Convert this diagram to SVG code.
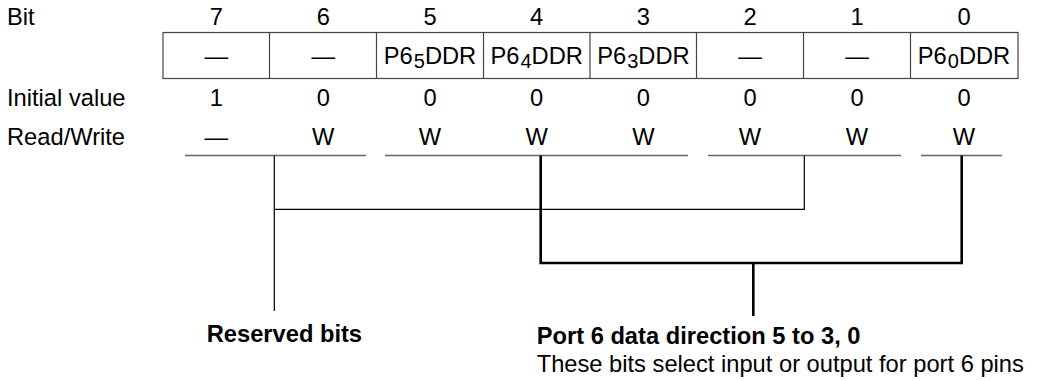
<svg xmlns="http://www.w3.org/2000/svg" width="1040" height="381" viewBox="0 0 1040 381">
<style>
text{font-family:"Liberation Sans",Arial,sans-serif;font-size:23.7px;fill:#000}
.c{text-anchor:middle}
.b{font-weight:bold}
.s{font-size:20px}
.ul{stroke:#666;stroke-width:1.5;fill:none}
.thin{stroke:#000;stroke-width:1.2;fill:none}
.thick{stroke:#000;stroke-width:2.6;fill:none}
.cell{stroke:#444;stroke-width:1.2;fill:none}
</style>
<rect width="1040" height="381" fill="#fff"/>
<g id="labels">
<text x="7" y="25">Bit</text>
<text x="7" y="105.5">Initial value</text>
<text x="7" y="144.5">Read/Write</text>
</g>
<g id="bits">
<text class="c" x="216.4" y="25">7</text>
<text class="c" x="323.3" y="25">6</text>
<text class="c" x="430" y="25">5</text>
<text class="c" x="536.7" y="25">4</text>
<text class="c" x="643.4" y="25">3</text>
<text class="c" x="750" y="25">2</text>
<text class="c" x="857" y="25">1</text>
<text class="c" x="964" y="25">0</text>
</g>
<g id="register">
<rect class="cell" x="163" y="32.5" width="855" height="46"/>
<path class="cell" d="M269.5 32.5V78.5M376.5 32.5V78.5M483.5 32.5V78.5M590 32.5V78.5M696.5 32.5V78.5M803.5 32.5V78.5M910.5 32.5V78.5"/>
<text class="c" x="216.4" y="63.5">—</text>
<text class="c" x="323.3" y="63.5">—</text>
<text class="c" x="430" y="64">P6<tspan class="s" dx="1" dy="4">5</tspan><tspan dy="-4">DDR</tspan></text>
<text class="c" x="536.7" y="64">P6<tspan class="s" dx="1" dy="4">4</tspan><tspan dy="-4">DDR</tspan></text>
<text class="c" x="643.4" y="64">P6<tspan class="s" dx="1" dy="4">3</tspan><tspan dy="-4">DDR</tspan></text>
<text class="c" x="750" y="63.5">—</text>
<text class="c" x="857" y="63.5">—</text>
<text class="c" x="964" y="64">P6<tspan class="s" dx="1" dy="4">0</tspan><tspan dy="-4">DDR</tspan></text>
</g>
<g id="initial">
<text class="c" x="216.4" y="105.5">1</text>
<text class="c" x="323.3" y="105.5">0</text>
<text class="c" x="430" y="105.5">0</text>
<text class="c" x="536.7" y="105.5">0</text>
<text class="c" x="643.4" y="105.5">0</text>
<text class="c" x="750" y="105.5">0</text>
<text class="c" x="857" y="105.5">0</text>
<text class="c" x="964" y="105.5">0</text>
</g>
<g id="rw">
<text class="c" x="216.4" y="144.5">—</text>
<text class="c" x="323.3" y="144.5">W</text>
<text class="c" x="430" y="144.5">W</text>
<text class="c" x="536.7" y="144.5">W</text>
<text class="c" x="643.4" y="144.5">W</text>
<text class="c" x="750" y="144.5">W</text>
<text class="c" x="857" y="144.5">W</text>
<text class="c" x="964" y="144.5">W</text>
</g>
<g id="connectors">
<path class="ul" d="M185 155.5H366M385 155.5H688M708 155.5H901M921 155.5H1002"/>
<path class="thin" d="M274.3 155.5V311M274.3 209.3H804.3V155.5"/>
<path class="thick" d="M540.7 155.5V263H961.7V155.5M753.3 263V316"/>
</g>
<g id="reserved">
<text class="b" x="206.7" y="341.5">Reserved bits</text>
</g>
<g id="port6">
<text class="b" x="536.7" y="344">Port 6 data direction 5 to 3, 0</text>
<text x="536.7" y="372">These bits select input or output for port 6 pins</text>
</g>
</svg>
